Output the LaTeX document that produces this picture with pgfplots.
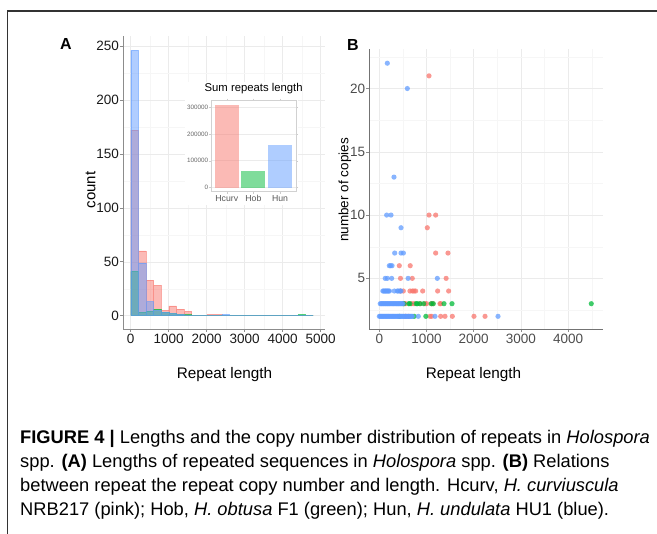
\documentclass[border=0pt]{standalone}
\usepackage{fontspec}
\setmainfont{Liberation Sans}
\usepackage{pgfplots}
\pgfplotsset{compat=1.18}
\definecolor{cred}{HTML}{F8766D}
\definecolor{cgreen}{HTML}{00BA38}
\definecolor{cblue}{HTML}{619CFF}
\definecolor{gridmaj}{HTML}{EBEBEB}
\definecolor{gridmin}{HTML}{F6F6F6}
\begin{document}
\begin{tikzpicture}[x=1pt,y=1pt]
\useasboundingbox (0,0) rectangle (657,534);
\draw[black!80, line width=1.1pt] (7.5,0) -- (7.5,523) -- (657,523);
% ---------------- Panel A: histogram
\begin{axis}[
  at={(123pt,205pt)}, anchor=south west, scale only axis,
  width=202pt, height=293pt,
  xmin=-203, xmax=5113, ymin=-12.35, ymax=259.35,
  axis lines*=left, axis line style={black!45, line width=0.8pt},
  xtick={0,1000,...,5000}, ytick={0,50,...,250},
  minor xtick={500,1500,2500,3500,4500}, minor ytick={25,75,...,225},
  grid=both, major grid style={gridmaj, line width=0.5pt},
  minor grid style={gridmin, line width=0.4pt},
  tick align=outside, major tick length=3pt, minor tick length=0pt,
  tick style={black!45, line width=0.6pt},
  ticklabel style={font=\fontsize{13.5}{13}\selectfont, text=black!90},
  xticklabel style={inner sep=1.5pt},
  yticklabel style={inner sep=0.8pt},
  /pgf/number format/assume math mode=true,
  /pgf/number format/1000 sep={},
  scaled ticks=false,
]
\addplot[ybar interval, draw=cred, fill=cred, fill opacity=0.5, draw opacity=0.6] coordinates {
(0,172) (200,60) (400,33) (600,28) (800,5) (1000,9) (1200,6) (1400,4) (1600,0) (1800,0)
(2000,1) (2200,1) (2400,0) (2600,0) (2800,0) (3000,0) (3200,0) (3400,0) (3600,0) (3800,0)
(4000,0) (4200,0) (4400,0) (4600,0) (4800,0)};
\addplot[ybar interval, draw=cgreen, fill=cgreen, fill opacity=0.5, draw opacity=0.6] coordinates {
(0,41) (200,3) (400,4) (600,6) (800,3) (1000,2) (1200,1) (1400,1) (1600,0) (1800,0)
(2000,0) (2200,0) (2400,0) (2600,0) (2800,0) (3000,0) (3200,0) (3400,0) (3600,0) (3800,0)
(4000,0) (4200,0) (4400,1) (4600,0) (4800,0)};
\addplot[ybar interval, draw=cblue, fill=cblue, fill opacity=0.5, draw opacity=0.6] coordinates {
(0,246) (200,49) (400,13) (600,5) (800,3) (1000,2) (1200,1) (1400,0) (1600,0) (1800,0)
(2000,0) (2200,0) (2400,1) (2600,0) (2800,0) (3000,0) (3200,0) (3400,0) (3600,0) (3800,0)
(4000,0) (4200,0) (4400,0) (4600,0) (4800,0)};
\end{axis}
\node[font=\fontsize{15.3}{15}\selectfont] at (224.5,159) {Repeat length};
\node[font=\fontsize{15}{15}\selectfont, rotate=90] at (90.5,344) {count};
% ---------------- inset
\fill[white] (185,329) rectangle (298,452);
\begin{axis}[
  at={(211.3pt,342.3pt)}, anchor=south west, scale only axis,
  width=84.7pt, height=91pt,
  xmin=0.42, xmax=3.6, ymin=-15400, ymax=323400,
  axis line style={black!18, line width=0.6pt},
  xtick={1,2,3}, xticklabels={Hcurv,Hob,Hun},
  ytick={0,100000,200000,300000},
  scaled y ticks=false,
  /pgf/number format/fixed, /pgf/number format/1000 sep={},
  /pgf/number format/assume math mode=true,
  yticklabel style={font=\fontsize{6.3}{6}\selectfont, text=black!60, inner sep=1pt},
  xticklabel style={font=\fontsize{8.7}{8}\selectfont, text=black!65, inner sep=1.5pt},
  tick align=outside, major tick length=2pt, tick style={black!20},
  ymajorgrids, major grid style={gridmaj, line width=0.4pt},
  title={Sum repeats length},
  title style={at={(axis description cs:0.5,1.037)}, anchor=base, yshift=0pt, font=\fontsize{11.3}{11}\selectfont},
]
\addplot[ybar, bar width=0.9, bar shift=0pt, fill=cred, fill opacity=0.5, draw=none] coordinates {(1,308000)};
\addplot[ybar, bar width=0.9, bar shift=0pt, fill=cgreen, fill opacity=0.5, draw=none] coordinates {(2,60000)};
\addplot[ybar, bar width=0.9, bar shift=0pt, fill=cblue, fill opacity=0.5, draw=none] coordinates {(3,160000)};
\end{axis}
% ---------------- Panel B: scatter
\begin{axis}[
  at={(369.3pt,205pt)}, anchor=south west, scale only axis,
  width=233.4pt, height=279.7pt,
  xmin=-212, xmax=4733, ymin=1, ymax=23.1,
  axis lines*=left, axis line style={black!55, line width=0.8pt},
  xtick={0,1000,...,4000}, ytick={5,10,15,20},
  minor xtick={500,1500,2500,3500,4500}, minor ytick={2.5,7.5,12.5,17.5,22.5},
  grid=both, major grid style={gridmaj, line width=0.5pt},
  minor grid style={gridmin, line width=0.4pt},
  tick align=outside, major tick length=3pt, minor tick length=0pt,
  tick style={black!45, line width=0.6pt},
  ticklabel style={font=\fontsize{13.5}{13}\selectfont, text=black!70},
  xticklabel style={inner sep=1.5pt},
  yticklabel style={inner sep=1pt},
  /pgf/number format/assume math mode=true,
  /pgf/number format/1000 sep={},
  scaled ticks=false,
]
\addplot[only marks, mark=*, mark size=2.6pt, color=cred, mark options={fill opacity=0.75, draw opacity=0}] coordinates {
(1053,21) (1053,10) (1194,10) (1017,9) (1194,7) (1455,7) (424,6) (655,6)
(449,5) (699,5) (1416,5)
(445,4) (509,4) (650,4) (700,4) (735,4) (770,4) (919,4) (1236,4) (1469,4)
(523,3) (558,3) (686,3) (735,3) (862,3) (968,3) (1003,3) (1110,3) (1130,3) (1286,3) (1300,3)
(560,2) (620,2) (1074,2) (1110,2) (1300,2) (1392,2) (1547,2) (2006,2) (2240,2)};
\addplot[only marks, mark=*, mark size=2.6pt, color=cgreen, mark options={fill opacity=0.75, draw opacity=0}] coordinates {
(520,3) (625,3) (650,3) (780,3) (805,3) (862,3) (940,3) (1100,3) (1144,3) (1371,3) (1540,3) (4491,3)
(430,2) (738,2) (986,2)};
\addplot[only marks, mark=*, mark size=2.6pt, color=cblue, mark options={fill opacity=0.75, draw opacity=0}] coordinates {
(170,22) (594,20) (311,13) (156,10) (248,10) (460,9)
(326,7) (460,7) (510,7)
(212,6) (240,6) (270,6)
(125,5) (170,5) (262,5) (610,5) (1229,5)
(75,4) (95,4) (115,4) (135,4) (155,4) (175,4) (195,4) (215,4) (318,4) (381,4) (400,4) (438,4) (460,4)
(20,3) (40,3) (60,3) (80,3) (100,3) (120,3) (140,3) (160,3) (180,3) (200,3) (220,3) (240,3) (260,3)
(280,3) (300,3) (320,3) (340,3) (360,3) (380,3) (400,3) (420,3) (440,3) (460,3) (480,3) (500,3)
(0,2) (20,2) (40,2) (60,2) (80,2) (100,2) (120,2) (140,2) (160,2) (180,2) (200,2) (220,2) (240,2)
(260,2) (280,2) (300,2) (320,2) (340,2) (360,2) (380,2) (400,2) (420,2) (440,2) (460,2) (480,2)
(500,2) (520,2) (540,2) (560,2) (580,2) (600,2) (620,2) (640,2) (660,2) (680,2) (700,2)
(826,2) (1180,2) (2515,2)};
\end{axis}
\node[font=\fontsize{15.3}{15}\selectfont] at (473.5,159) {Repeat length};
\node[font=\fontsize{13.5}{13}\selectfont, rotate=90] at (345,344) {number of copies};
% ---------------- panel letters
\node[font=\bfseries\fontsize{16}{16}\selectfont] at (66,489.5) {A};
\node[font=\bfseries\fontsize{16}{16}\selectfont] at (353,489) {B};
% ---------------- caption
\begin{scope}[every node/.style={anchor=base west, inner sep=0pt, font=\fontsize{18.3}{18}\selectfont}]
\node at (20,90) {\textbf{FIGURE 4 |} Lengths and the copy number distribution of repeats in \textit{Holospora}};
\node at (20,66) {spp. \textbf{(A)} Lengths of repeated sequences in \textit{Holospora} spp. \textbf{(B)} Relations};
\node at (20,42) {between repeat the repeat copy number and length. Hcurv, \textit{H. curviuscula}};
\node at (20,18) {NRB217 (pink); Hob, \textit{H. obtusa} F1 (green); Hun, \textit{H. undulata} HU1 (blue).};
\end{scope}
\end{tikzpicture}
\end{document}
